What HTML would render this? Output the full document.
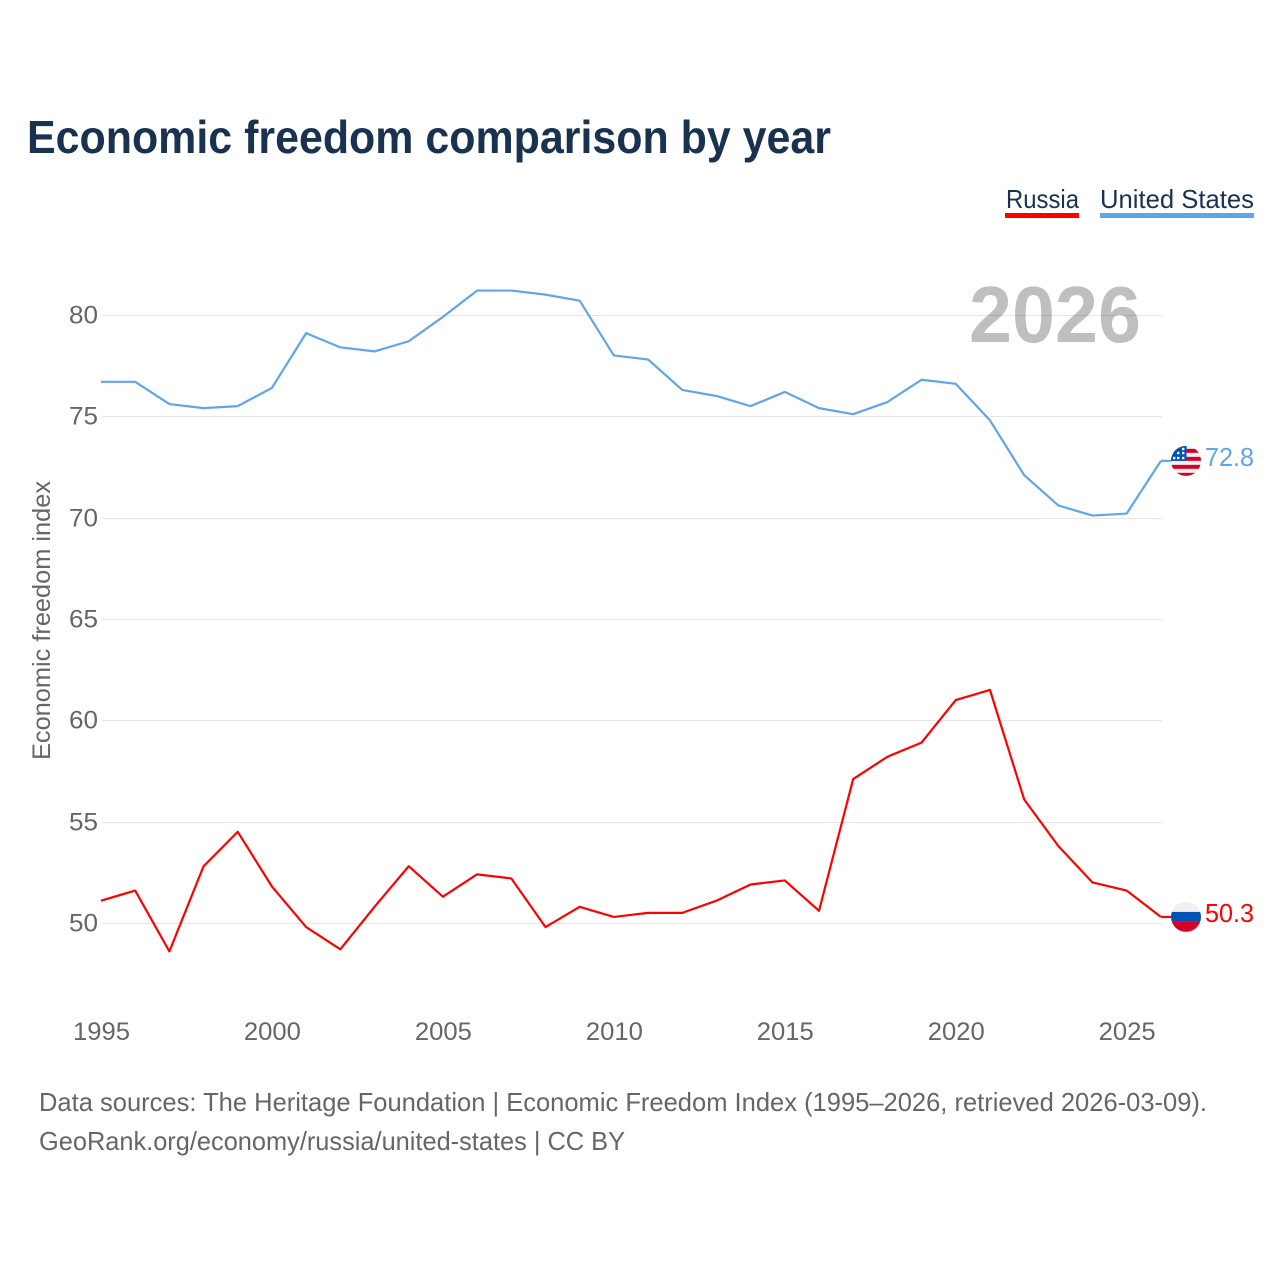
<!DOCTYPE html>
<html lang="en">
<head>
<meta charset="utf-8">
<title>Economic freedom comparison by year</title>
<style>
html,body{margin:0;padding:0;background:#fff}
svg{display:block;font-family:"Liberation Sans",sans-serif}
</style>
</head>
<body>
<svg id="chart" xmlns="http://www.w3.org/2000/svg" width="1280" height="1280" viewBox="0 0 1280 1280">
  <rect width="1280" height="1280" fill="#fff"/>
  <text x="27" y="153" font-size="46" font-weight="700" fill="#18324f" textLength="804" lengthAdjust="spacingAndGlyphs">Economic freedom comparison by year</text>
  <g>
    <g>
      <text x="1006" y="208" font-size="26" fill="#18324f" textLength="73" lengthAdjust="spacingAndGlyphs">Russia</text>
      <rect x="1005" y="213" width="74" height="5" fill="#ff0000"/>
    </g>
    <g>
      <text x="1100" y="208" font-size="26" fill="#18324f" textLength="154" lengthAdjust="spacingAndGlyphs">United States</text>
      <rect x="1100" y="213" width="154" height="5" fill="#60a5ea"/>
    </g>
  </g>
  <g id="grid"></g>
  <text x="969" y="342" font-size="80" font-weight="700" fill="#000" fill-opacity="0.25" textLength="172" lengthAdjust="spacingAndGlyphs">2026</text>
  <g id="yticks"></g>
  <g id="xticks"></g>
  <text transform="translate(50,760) rotate(-90)" font-size="25" fill="#666" textLength="279" lengthAdjust="spacingAndGlyphs">Economic freedom index</text>
  <g id="series"></g>
  <defs>
    <clipPath id="us-clip"><circle id="us-clip-c" r="15"/></clipPath>
    <clipPath id="ru-clip"><circle id="ru-clip-c" r="15"/></clipPath>
  </defs>
  <g id="end-labels"></g>
  <text x="39" y="1111" font-size="26" fill="#666" textLength="1168" lengthAdjust="spacingAndGlyphs">Data sources: The Heritage Foundation | Economic Freedom Index (1995–2026, retrieved 2026-03-09).</text>
  <text x="39" y="1150" font-size="26" fill="#666" textLength="586" lengthAdjust="spacingAndGlyphs">GeoRank.org/economy/russia/united-states | CC BY</text>
</svg>
<script>
const years = [1995,1996,1997,1998,1999,2000,2001,2002,2003,2004,2005,2006,2007,2008,2009,2010,2011,2012,2013,2014,2015,2016,2017,2018,2019,2020,2021,2022,2023,2024,2025,2026];
const unitedStates = [76.7,76.7,75.6,75.4,75.5,76.4,79.1,78.4,78.2,78.7,79.9,81.2,81.2,81.0,80.7,78.0,77.8,76.3,76.0,75.5,76.2,75.4,75.1,75.7,76.8,76.6,74.8,72.1,70.6,70.1,70.2,72.8];
const russia = [51.1,51.6,48.6,52.8,54.5,51.8,49.8,48.7,50.8,52.8,51.3,52.4,52.2,49.8,50.8,50.3,50.5,50.5,51.1,51.9,52.1,50.6,57.1,58.2,58.9,61.0,61.5,56.1,53.8,52.0,51.6,50.3];
const yTickValues = [50,55,60,65,70,75,80];
const xTickValues = [1995,2000,2005,2010,2015,2020,2025];

const NS = 'http://www.w3.org/2000/svg';
function xScale(v){ return 101 + (v - 1995) * 34.19; }
function yScale(v){ return 923 - (v - 50) * 20.27; }
function make(tag, attrs, parent, txt){
  const el = document.createElementNS(NS, tag);
  for (const k in attrs) el.setAttribute(k, attrs[k]);
  if (txt !== undefined) el.textContent = txt;
  parent.appendChild(el);
  return el;
}
const grid = document.getElementById('grid');
const yticks = document.getElementById('yticks');
const xticks = document.getElementById('xticks');
const seriesG = document.getElementById('series');
const endG = document.getElementById('end-labels');

yTickValues.forEach(function(v){
  const gy = Math.round(yScale(v)) + 0.5;
  const line = make('line', {x1:102, x2:1162, y1:gy, y2:gy, stroke:'#e6e6e6', 'stroke-width':1}, grid);
  
  
  const t = make('text', {x:98, y:gy+8, 'text-anchor':'end', 'font-size':25, fill:'#666', textLength:29, lengthAdjust:'spacingAndGlyphs'}, yticks, String(v));
  
  
});
xTickValues.forEach(function(v){
  const t = make('text', {x:xScale(v)+0.5, y:1040, 'text-anchor':'middle', 'font-size':25, fill:'#666', textLength:57, lengthAdjust:'spacingAndGlyphs'}, xticks, String(v));
  
  
});
function linePath(values){
  return values.map(function(v,i){ return (i ? 'L' : 'M') + xScale(years[i]).toFixed(2) + ' ' + yScale(v).toFixed(2); }).join(' ');
}
const usLine = make('path', {d:linePath(unitedStates), fill:'none', stroke:'#60a5ea', 'stroke-width':2.2, 'stroke-linejoin':'round'}, seriesG);


const ruLine = make('path', {d:linePath(russia), fill:'none', stroke:'#ff0000', 'stroke-width':2.2, 'stroke-linejoin':'round'}, seriesG);



const fx = 1186;
const lastUS = unitedStates[unitedStates.length - 1];
const lastRU = russia[russia.length - 1];
const usY = yScale(lastUS);
const ruY = yScale(lastRU);
const usLead = make('line', {x1:1161, x2:1172, y1:usY, y2:usY, stroke:'#60a5ea', 'stroke-width':2.2}, endG);


const ruLead = make('line', {x1:1161, x2:1172, y1:ruY, y2:ruY, stroke:'#ff0000', 'stroke-width':2.2}, endG);



document.getElementById('us-clip-c').setAttribute('cx', fx);
document.getElementById('us-clip-c').setAttribute('cy', usY);
document.getElementById('ru-clip-c').setAttribute('cx', fx);
document.getElementById('ru-clip-c').setAttribute('cy', ruY);

const usFlag = make('g', {'clip-path':'url(#us-clip)'}, endG);


make('rect', {x:fx-15, y:usY-15, width:30, height:30, fill:'#f0f0f0'}, usFlag);
[-12,-4,4,12].forEach(function(o){
  make('rect', {x:fx-15, y:usY+o, width:30, height:4, fill:'#d80027'}, usFlag);
});
make('rect', {x:fx-15, y:usY-15, width:15.5, height:15, fill:'#0052b4'}, usFlag);
[[-9,-9],[-4,-9],[-9,-4],[-4,-4],[-4,-13],[-13,-4]].forEach(function(p){
  make('rect', {x:fx+p[0], y:usY+p[1], width:2.4, height:2.4, fill:'#f0f0f0'}, usFlag);
});

const ruFlag = make('g', {'clip-path':'url(#ru-clip)'}, endG);


make('rect', {x:fx-15, y:ruY-15, width:30, height:10, fill:'#f0f0f0'}, ruFlag);
make('rect', {x:fx-15, y:ruY-5, width:30, height:10, fill:'#0052b4'}, ruFlag);
make('rect', {x:fx-15, y:ruY+5, width:30, height:10, fill:'#d80027'}, ruFlag);

const usVal = make('text', {x:1205, y:usY+5, 'font-size':26, fill:'#60a5ea', textLength:49, lengthAdjust:'spacingAndGlyphs'}, endG, lastUS.toFixed(1));


const ruVal = make('text', {x:1205, y:ruY+5, 'font-size':26, fill:'#ff0000', textLength:49, lengthAdjust:'spacingAndGlyphs'}, endG, lastRU.toFixed(1));


</script>
</body>
</html>
